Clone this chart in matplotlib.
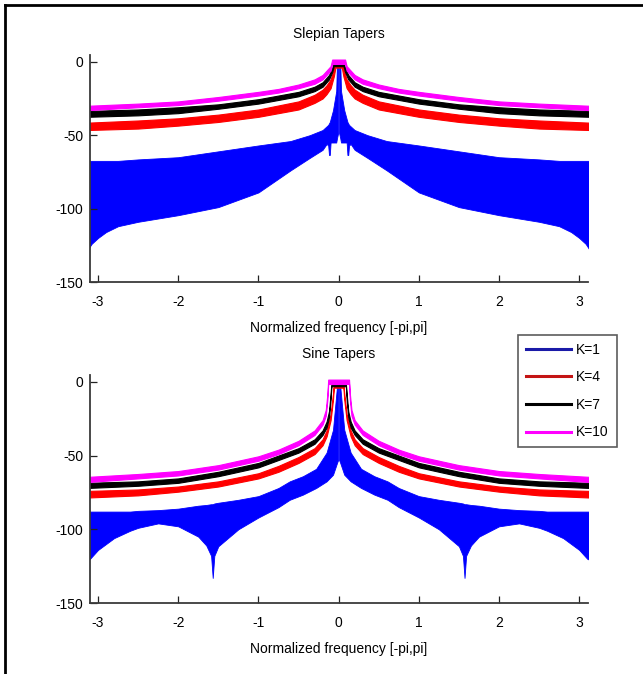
import matplotlib
matplotlib.use("Agg")
import matplotlib.pyplot as plt
from matplotlib.lines import Line2D
import numpy as np

plt.rcParams['font.family'] = ['Liberation Sans', 'DejaVu Sans']
plt.rcParams['font.size'] = 10
plt.rcParams['axes.unicode_minus'] = False

# spectra are symmetric about 0, so only the positive half is listed (values in dB)
# --- Slepian tapers ---
sl_k1_f = [0.006, 0.02, 0.03, 0.07, 0.10, 0.11, 0.12, 0.13, 0.15, 0.2, 0.36, 0.6, 1.0, 1.5, 2.0, 2.5, 2.75, 2.9, 3.0, 3.08, 3.14]
sl_k1_hi = [0, 0, -20, -33, -39, -41, -42, -43, -44, -46.5, -50, -54, -57, -61, -65, -66.5, -67.5, -67.5, -67.5, -67.5, -67.5]
sl_k1_lo = [-48.5, -52, -55, -55, -55, -63.5, -63.5, -57, -56, -60, -65.5, -74, -89, -99, -104.5, -109, -112, -116, -120, -124, -129]

sl_k4_f = [0, 0.04, 0.06, 0.1, 0.15, 0.2, 0.3, 0.5, 1.0, 1.5, 2.0, 2.5, 3.14]
sl_k4_hi = [-1, -1, -5, -12, -16, -19, -22.5, -27, -32.5, -36, -38.5, -40, -41.5]
sl_k4_lo = [-4, -4, -10, -18, -22, -25, -28, -32.5, -37.5, -41, -43.5, -45.5, -46.5]

sl_k7_f = [0, 0.06, 0.08, 0.12, 0.2, 0.3, 0.5, 1.0, 1.5, 2.0, 2.5, 3.14]
sl_k7_hi = [-1, -1, -4, -9, -14, -17, -20.5, -25.5, -29, -31, -32.5, -33.5]
sl_k7_lo = [-3, -3, -7, -12, -17, -20, -23.5, -28.5, -32, -35, -36.5, -37.5]

sl_k10_f = [0, 0.08, 0.10, 0.2, 0.3, 0.5, 0.75, 1.0, 1.5, 2.0, 2.5, 3.14]
sl_k10_hi = [1.5, 1.5, -3, -9, -12, -15.5, -18.5, -20.5, -24, -27, -28.5, -30]
sl_k10_lo = [-1.5, -1.5, -6, -12, -15, -18, -21, -23, -26.5, -29.5, -31, -33]

# --- Sine tapers ---
si_k1_f = [0.006, 0.02, 0.07, 0.15, 0.28, 0.445, 0.61, 0.75, 1.0, 1.25, 1.5, 1.55, 1.57, 1.59, 1.65, 1.75, 2.0, 2.25, 2.5, 2.6, 2.8, 3.0, 3.1, 3.14]
si_k1_hi = [0, -3, -32.5, -48, -59, -64, -67.5, -72, -77.5, -80, -82, -82.5, -83, -83, -83.5, -84, -86, -87, -87.5, -88, -88, -88, -88, -88]
si_k1_lo = [-53, -55, -63, -67.5, -72, -76.5, -80, -85, -92, -100, -111.5, -118, -133, -118, -111, -105, -98, -96, -99, -101, -106, -114, -120, -121]

si_k4_f = [0, 0.06, 0.07, 0.1, 0.15, 0.2, 0.3, 0.5, 0.75, 1.0, 1.5, 2.0, 2.5, 3.14]
si_k4_hi = [-1, -1, -8, -22, -33, -39, -45, -51, -57, -62, -67.5, -71, -73, -74]
si_k4_lo = [-4, -4, -12, -26, -37, -43, -49, -55, -61, -65.5, -71, -74.5, -77, -78.5]

si_k7_f = [0, 0.09, 0.1, 0.12, 0.15, 0.2, 0.3, 0.5, 0.75, 1.0, 1.5, 2.0, 2.5, 3.14]
si_k7_hi = [-1, -1, -8, -20, -27, -33, -39, -45, -50, -55, -61, -65.5, -67.5, -68.5]
si_k7_lo = [-3, -3, -12, -24, -31, -36, -42, -48, -53, -58, -64, -68.5, -70.5, -72]

si_k10_f = [0, 0.13, 0.14, 0.16, 0.2, 0.3, 0.5, 0.75, 1.0, 1.5, 2.0, 2.5, 3.14]
si_k10_hi = [1.5, 1.5, -8, -19, -26, -33, -40, -46, -50.5, -56.5, -60.5, -62.5, -64.5]
si_k10_lo = [-1.5, -1.5, -12, -23, -29, -36, -43, -49, -53.5, -59.5, -63.5, -65.5, -68]

labels = ['K=1', 'K=4', 'K=7', 'K=10']
colors = ['#0000ff', '#ff0000', '#000000', '#ff00ff']
legend_colors = ['#1a1aa8', '#c41414', '#000000', '#ff00ff']
xticks = [-3, -2, -1, 0, 1, 2, 3]
yticks = [-150, -100, -50, 0]


def mirror(f, v):
    f = np.asarray(f, float)
    v = np.asarray(v, float)
    return np.concatenate([-f[::-1], f]), np.concatenate([v[::-1], v])


def band(ax, f, hi, lo, color, split=False):
    if split:
        # separate halves leave the thin white gap at f=0
        f = np.asarray(f, float)
        ax.fill_between(-f, lo, hi, color=color, lw=0.6, edgecolor=color)
        ax.fill_between(f, lo, hi, color=color, lw=0.6, edgecolor=color)
    else:
        ff, h = mirror(f, hi)
        _, l = mirror(f, lo)
        ax.fill_between(ff, l, h, color=color, lw=0.8, edgecolor=color)


fig = plt.figure(figsize=(6.43, 6.74), dpi=100)
ax1 = fig.add_axes([0.140, 0.5816, 0.7745, 0.3368])
ax2 = fig.add_axes([0.140, 0.1053, 0.7745, 0.3383])

band(ax1, sl_k1_f, sl_k1_hi, sl_k1_lo, colors[0], split=True)
band(ax1, sl_k4_f, sl_k4_hi, sl_k4_lo, colors[1])
band(ax1, sl_k7_f, sl_k7_hi, sl_k7_lo, colors[2])
band(ax1, sl_k10_f, sl_k10_hi, sl_k10_lo, colors[3])

band(ax2, si_k1_f, si_k1_hi, si_k1_lo, colors[0], split=True)
band(ax2, si_k4_f, si_k4_hi, si_k4_lo, colors[1])
band(ax2, si_k7_f, si_k7_hi, si_k7_lo, colors[2])
band(ax2, si_k10_f, si_k10_hi, si_k10_lo, colors[3])

for ax, title in [(ax1, 'Slepian Tapers'), (ax2, 'Sine Tapers')]:
    ax.set_xlim(-3.1, 3.11)
    ax.set_ylim(-150, 4.6)
    ax.set_xticks(xticks)
    ax.set_yticks(yticks)
    ax.spines['top'].set_visible(False)
    ax.spines['right'].set_visible(False)
    for s in ['left', 'bottom']:
        ax.spines[s].set_color('#3a3a3a')
        ax.spines[s].set_linewidth(1.3)
    ax.tick_params(direction='in', length=5, width=0.9, color='#222222', labelsize=10)
    ax.tick_params(axis='x', pad=9)
    ax.tick_params(axis='y', pad=5)
    ax.set_title(title, fontsize=10, pad=12)
    ax.set_xlabel('Normalized frequency [-pi,pi]', fontsize=10, labelpad=9)

handles = [Line2D([], [], color=c, lw=2.2) for c in legend_colors]
leg = fig.legend(handles, labels, loc='upper left', bbox_to_anchor=(518 / 643, 1 - 335 / 674),
                 borderaxespad=0, frameon=True, fancybox=False, fontsize=10,
                 handlelength=3.3, handletextpad=0.35, labelspacing=0.98, borderpad=0.55)
leg.get_frame().set_edgecolor('#333333')
leg.get_frame().set_linewidth(1.2)

# outer frame of the figure (left and top edges visible)
fig.add_artist(Line2D([4.5 / 643, 4.5 / 643], [0, 1 - 4.5 / 674], color='black', lw=2, transform=fig.transFigure))
fig.add_artist(Line2D([4.5 / 643, 1], [1 - 4.5 / 674, 1 - 4.5 / 674], color='black', lw=2, transform=fig.transFigure))

fig.savefig('out.png', dpi=100)
